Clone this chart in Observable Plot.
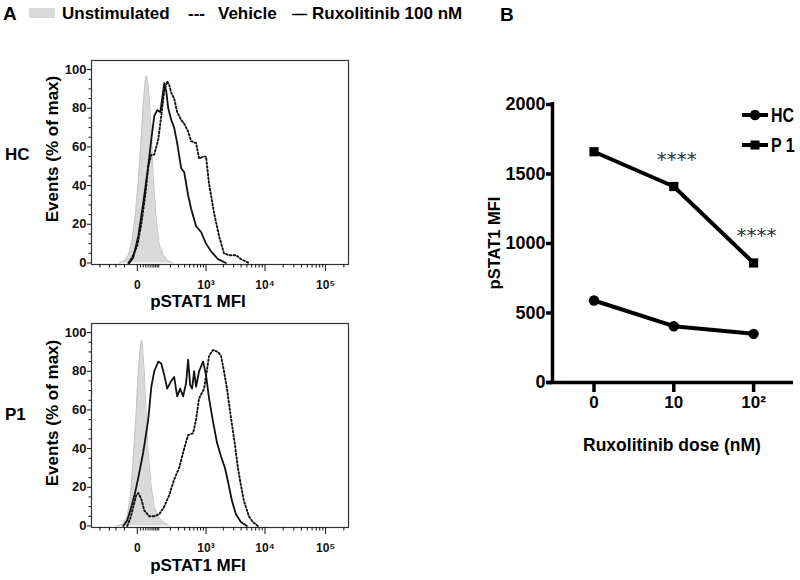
<!DOCTYPE html>
<html><head><meta charset="utf-8">
<script src="https://cdn.jsdelivr.net/npm/d3@7"></script>
<script src="https://cdn.jsdelivr.net/npm/@observablehq/plot@0.6"></script>
<style>
body{margin:0;background:#fff}
#fig{position:relative;width:800px;height:580px;overflow:hidden;background:#fff}
#fig svg{position:absolute}
</style>
</head><body><div id="fig"></div>
<script>
// ---------- Panel A : histograms (x = pSTAT1 MFI, y = % of max) ----------
const hcUnstimMFI = [-78,-51,-32,-17,-6,3,13,20,28,32,37,46,56,66,84,103,133,178,231];
const hcUnstimPct = [0,1,4,12,25,42,65,82,94,97,95,85,68,45,22,10,4,1,0];
const hcVehMFI = [-32,-17,0,13,28,41,56,72,97,118,142,168,188,209,243,282,341,392,468,534,661,750,886,1001,1131,1382,1686,2052,2496,3272,3968,5400];
const hcVehPct = [0,3,9,20,35,50,56,56,64,76,89,94,92,88,85,78,74,72,68,63,62,54,55,55,41,26,14,5,4,4,2,0];
const hcRuxMFI = [-28,-13,3,20,41,56,72,90,111,125,142,159,178,209,243,282,341,392,468,534,661,815,1001,1226,1621,2219];
const hcRuxPct = [0,3,14,31,50,64,76,79,78,85,93,89,80,74,70,62,49,47,35,28,19,16,10,6,2,0];

const p1UnstimMFI = [-97,-56,-37,-24,-13,-3,3,10,13,17,24,32,41,56,72,97,133,188];
const p1UnstimPct = [0,1,5,15,35,60,80,93,96,94,80,58,38,20,10,5,2,0];
const p1VehMFI = [-37,-24,-13,-3,3,13,24,46,72,103,142,188,243,310,392,468,582,661,750,923,1043,1131,1328,1621,1824,2052,2307,2696,3150,3536,3968,4456,5400,6290,7617];
const p1VehPct = [0,4,10,16,17,14,8,5,5,6,10,16,24,30,40,47,48,55,66,71,81,88,91,90,88,80,71,56,42,30,21,13,5,2,0];
const p1RuxMFI = [-56,-37,-20,-6,3,20,41,56,72,97,118,142,168,209,243,282,325,374,428,468,511,557,608,661,750,886,1001,1131,1328,1558,1824,2134,2400,2804,3272,3968,5000];
const p1RuxPct = [0,3,10,18,25,38,55,72,80,85,84,78,71,75,77,67,71,67,74,86,73,71,80,72,80,85,78,66,54,43,36,30,23,13,6,2,0];

const histXMajor = [0,1000,10000,100000];
const histXLabels = ["0","10³","10⁴","10⁵"];
const histXMinor = [-250,-150,-100,-50,10,20,30,40,50,60,70,80,90,100,200,300,400,500,600,700,800,900,2000,3000,4000,5000,6000,7000,8000,9000,20000,30000,40000,50000,60000,70000,80000,90000,200000];
const histYMajor = [0,20,40,60,80,100];
const histYMinor = [5,10,15,25,30,35,45,50,55,65,70,75,85,90,95];

// ---------- Panel B ----------
const doses = ["0","10","10²"];
const hcMFI = [590,405,350];
const p1MFI = [1660,1410,860];
const p1Sig = ["","****","****"];
const bYTicks = [0,500,1000,1500,2000];

const fig = document.getElementById("fig");
const rows = (m,p) => m.map((v,i) => ({mfi:v, pct:p[i]}));
const sans = "'Liberation Sans',Arial,Helvetica,sans-serif";

function histo(u, v, r) {
  return Plot.plot({
    width: 360, height: 260, marginLeft: 91, marginRight: 12, marginTop: 10, marginBottom: 46,
    x: {type: "symlog", constant: 80, domain: [-374, 238400], label: null},
    y: {domain: [-0.8, 104.7], label: null},
    style: {fontFamily: sans, fontWeight: "bold", fontSize: "12px", background: "transparent", overflow: "visible", color: "#111"},
    marks: [
      Plot.areaY(u, {x: "mfi", y: "pct", fill: "#d9d9d9"}),
      Plot.lineY(u, {x: "mfi", y: "pct", stroke: "#c4c4c4", strokeWidth: 1}),
      Plot.lineY(v, {x: "mfi", y: "pct", stroke: "#111", strokeWidth: 1.9, strokeDasharray: "1.6,2.2"}),
      Plot.lineY(r, {x: "mfi", y: "pct", stroke: "#111", strokeWidth: 1.8}),
      Plot.frame({stroke: "#333", strokeWidth: 1.2}),
      Plot.axisY({ticks: histYMajor, tickSize: 4, tickPadding: 1, fontSize: 13}),
      Plot.axisY({ticks: histYMinor, tickSize: 2.5, tickFormat: () => ""}),
      Plot.axisX({ticks: histXMajor, tickSize: 7, tickPadding: 9, fontSize: 12,
                  tickFormat: d => histXLabels[histXMajor.indexOf(d)]}),
      Plot.axisX({ticks: histXMinor, tickSize: 3.5, tickFormat: () => ""})
    ]
  });
}

const hc = histo(rows(hcUnstimMFI,hcUnstimPct), rows(hcVehMFI,hcVehPct), rows(hcRuxMFI,hcRuxPct));
hc.style.left = "0px"; hc.style.top = "50px"; fig.appendChild(hc);
const p1 = histo(rows(p1UnstimMFI,p1UnstimPct), rows(p1VehMFI,p1VehPct), rows(p1RuxMFI,p1RuxPct));
p1.style.left = "0px"; p1.style.top = "313px"; fig.appendChild(p1);

const hcRows = hcMFI.map((v,i) => ({i, v}));
const p1Rows = p1MFI.map((v,i) => ({i, v, sig: p1Sig[i]}));

const b = Plot.plot({
  width: 310, height: 360, marginLeft: 62, marginRight: 7, marginTop: 24, marginBottom: 58,
  x: {domain: [-0.52, 2.5], label: null},
  y: {domain: [0, 2000], label: null},
  style: {fontFamily: sans, fontWeight: "bold", fontSize: "18px", background: "transparent", overflow: "visible", color: "#000"},
  marks: [
    Plot.ruleX([-0.52], {y1: 0, y2: 2015, stroke: "#000", strokeWidth: 3.5}),
    Plot.ruleY([0], {x1: -0.585, x2: 2.5, stroke: "#000", strokeWidth: 3.5}),
    Plot.axisY({ticks: bYTicks, tickSize: 6, tickPadding: 1, strokeWidth: 3.5, fontSize: 18, tickFormat: d => String(d)}),
    Plot.axisX({ticks: [0,1,2], tickSize: 10, tickPadding: 3, strokeWidth: 3.5, fontSize: 17, tickFormat: i => doses[i]}),
    Plot.line(hcRows, {x: "i", y: "v", stroke: "#000", strokeWidth: 4}),
    Plot.line(p1Rows, {x: "i", y: "v", stroke: "#000", strokeWidth: 4}),
    Plot.dot(hcRows, {x: "i", y: "v", r: 5.2, fill: "#000", symbol: "circle"}),
    Plot.dot(p1Rows, {x: "i", y: "v", r: 5.2, fill: "#000", symbol: "square"}),
    Plot.text(p1Rows.filter(d => d.sig), {x: "i", y: "v", text: "sig", dy: -27, dx: 3, fontSize: 20, fontWeight: "normal", fontFamily: "DejaVu Sans, sans-serif", fill: "#333"})
  ]
});
b.style.left = "490px"; b.style.top = "80px"; fig.appendChild(b);

// ---------- annotations (real text) ----------
const ov = document.createElementNS("http://www.w3.org/2000/svg","svg");
ov.setAttribute("width","800"); ov.setAttribute("height","580");
ov.style.left = "0px"; ov.style.top = "0px"; ov.style.pointerEvents = "none";
ov.innerHTML = `
<g font-family="Liberation Sans, Arial, sans-serif" font-weight="bold" fill="#000">
  <text x="3" y="20" font-size="19">A</text>
  <rect x="29" y="8" width="26" height="10" fill="#d9d9d9"></rect>
  <text x="62" y="19" font-size="17">Unstimulated</text>
  <text x="188" y="19" font-size="17">---</text>
  <text x="218" y="19" font-size="17">Vehicle</text>
  <text x="292" y="19" font-size="15">—</text>
  <text x="312" y="19" font-size="17">Ruxolitinib 100 nM</text>
  <text x="500" y="21" font-size="19">B</text>
  <text x="5" y="160" font-size="17">HC</text>
  <text x="5" y="420" font-size="17">P1</text>
  <text x="52" y="149" font-size="17" text-anchor="middle" dominant-baseline="central" transform="rotate(-90 52 149)">Events (% of max)</text>
  <text x="52" y="413" font-size="17" text-anchor="middle" dominant-baseline="central" transform="rotate(-90 52 413)">Events (% of max)</text>
  <text x="198" y="307" font-size="17" text-anchor="middle">pSTAT1 MFI</text>
  <text x="198" y="571" font-size="17" text-anchor="middle">pSTAT1 MFI</text>
  <text x="494" y="243" font-size="16.5" text-anchor="middle" dominant-baseline="central" transform="rotate(-90 494 243)">pSTAT1 MFI</text>
  <text x="672" y="451" font-size="17.5" text-anchor="middle">Ruxolitinib dose (nM)</text>
</g>
<g>
  <line x1="742" x2="768" y1="115" y2="115" stroke="#000" stroke-width="4"></line>
  <circle cx="755" cy="115" r="5.2" fill="#000"></circle>
  <line x1="742" x2="768" y1="145" y2="145" stroke="#000" stroke-width="4"></line>
  <rect x="750.5" y="140.5" width="9" height="9" fill="#000"></rect>
  <text transform="translate(771,122) scale(0.8,1)" font-size="20" font-weight="bold" font-family="Liberation Sans, Arial, sans-serif">HC</text>
  <text transform="translate(771,152) scale(0.8,1)" font-size="20" font-weight="bold" font-family="Liberation Sans, Arial, sans-serif">P 1</text>
</g>`;
fig.appendChild(ov);
</script>
</body></html>
